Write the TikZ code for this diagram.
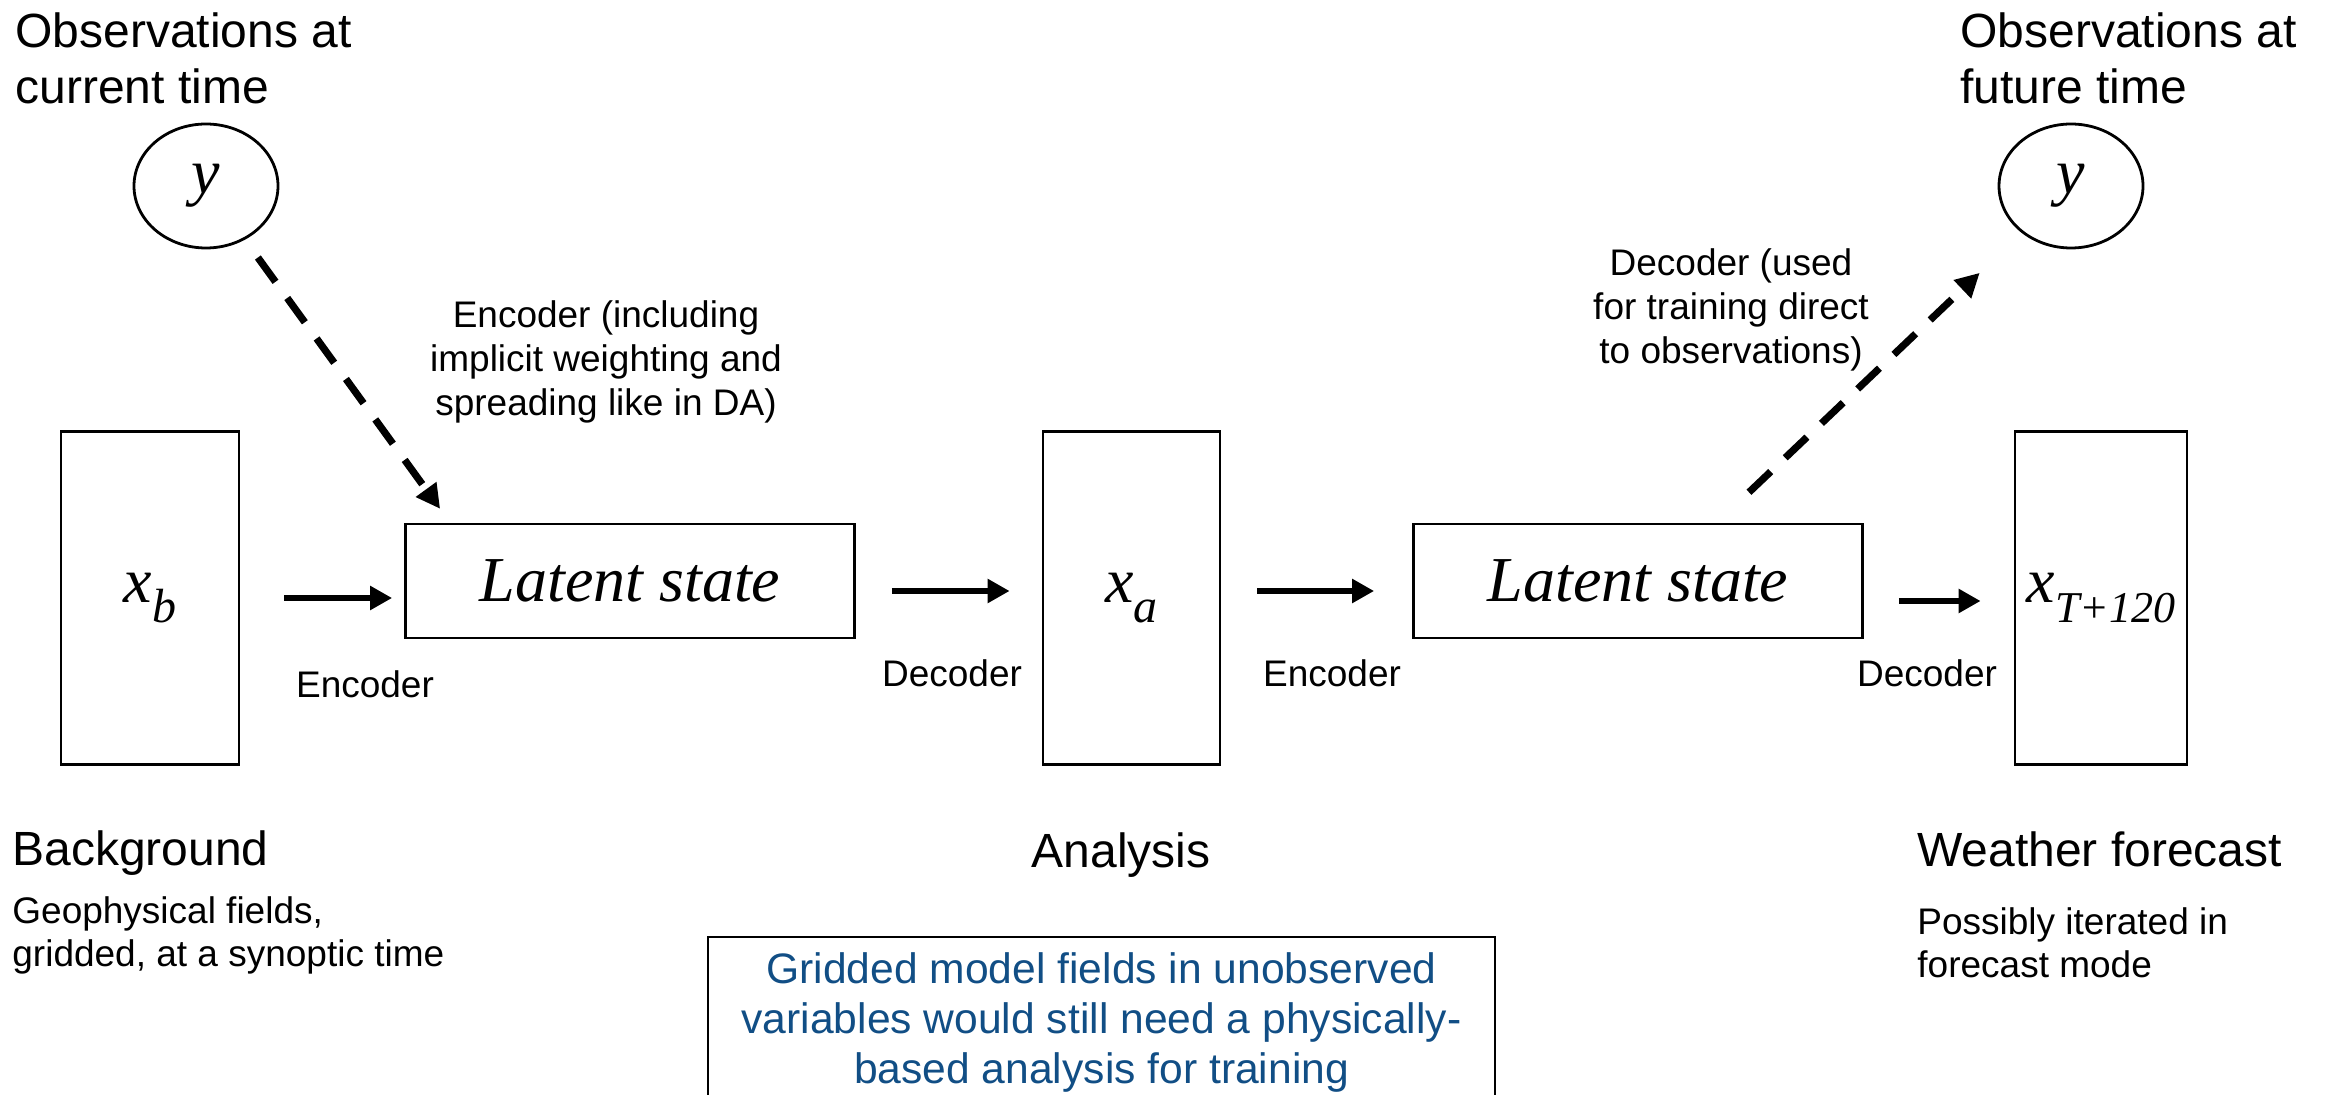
\documentclass[tikz,border=0pt]{standalone}
\usepackage{fontspec}
\setmainfont{Liberation Sans}
\newfontfamily\tms{Liberation Serif}
\usetikzlibrary{arrows.meta,shapes.geometric}
\definecolor{bluetxt}{RGB}{17,78,133}
\newcommand{\sublab}[3][24]{\raisebox{-8pt}{\tms\itshape #2\raisebox{-0.3em}{\fontsize{#1}{#1}\selectfont\itshape #3}}}
\begin{document}
\begin{tikzpicture}[x=0.5pt,y=-0.5pt,
  box/.style={draw,line width=1.4pt,inner sep=0pt,font=\fontsize{32}{36}\selectfont},
  obs/.style={draw,ellipse,line width=1.4pt,minimum width=72pt,minimum height=62pt,inner sep=0pt,font=\fontsize{32}{36}\selectfont\tms\itshape},
  arr/.style={line width=3.4pt,-{Triangle[length=11pt,width=11.5pt]}},
  dasharr/.style={line width=3.6pt,dash pattern=on 15pt off 10pt,-{Triangle[length=12pt,width=12pt]}},
  big/.style={font=\fontsize{24}{28}\selectfont,align=left,inner sep=0pt},
  med/.style={font=\fontsize{18.5}{22}\selectfont,align=center,inner sep=0pt},
  medl/.style={font=\fontsize{18.5}{21.5}\selectfont,align=left,inner sep=0pt},
]
\useasboundingbox (0,0) rectangle (2328,1095);
\clip (0,0) rectangle (2328,1095);

% boxes
\node[box,minimum width=89pt,minimum height=166.5pt] (xb) at (150,598) {\sublab{x}{b}};
\node[box,minimum width=224.5pt,minimum height=57pt] (l1) at (630,581) {\raisebox{-7pt}{\tms\itshape Latent state}};
\node[box,minimum width=88.5pt,minimum height=166.5pt] (xa) at (1131.5,598) {\sublab{x}{a}};
\node[box,minimum width=224.5pt,minimum height=57pt] (l2) at (1638,581) {\raisebox{-7pt}{\tms\itshape Latent state}};
\node[box,minimum width=86pt,minimum height=166.5pt] (xt) at (2101,598) {\sublab[22]{x}{T+120}};

% observation ellipses
\node[obs] (y1) at (206,186) {\raisebox{-7pt}{y}};
\node[obs] (y2) at (2071,186) {\raisebox{-7pt}{y}};

% solid arrows
\draw[arr,shorten <=22pt,shorten >=6pt] (xb.east) -- (xb.east -| l1.west);
\draw[arr,shorten <=18pt,shorten >=16pt] ([yshift=-5pt]l1.east) -- ([yshift=-5pt]l1.east -| xa.west);
\draw[arr,shorten <=18pt,shorten >=19pt] ([yshift=3.5pt]xa.east) -- ([yshift=3.5pt]xa.east -| l2.west);
\draw[arr,shorten <=17.5pt,shorten >=16.5pt] ([yshift=-10pt]l2.east) -- ([yshift=-10pt]l2.east -| xt.west);

% dashed arrows
\draw[dasharr,shorten <=11pt,shorten >=8.5pt] (y1) -- ([xshift=23pt]l1.north west);
\draw[dasharr,shorten <=22pt,shorten >=63pt] ([xshift=152.5pt]l2.north west) -- (y2.center);

% labels
\node[big,anchor=west] (t1) at (15,58) {Observations at\\current time};
\node[big,anchor=west] (t2) at (1960,58) {Observations at\\future time};
\node[med] (c1) at (606,362) {Encoder (including\\implicit weighting and\\spreading like in DA)};
\node[med] (c2) at (1731,310) {Decoder (used\\for training direct\\to observations)};
\node[med] (e1) at (365,684) {Encoder};
\node[med] (d1) at (952,673) {Decoder};
\node[med] (e2) at (1332,673) {Encoder};
\node[med] (d2) at (1927,673) {Decoder};

\node[big,anchor=west] (bg) at (12,853) {Background};
\node[medl,anchor=west] (bgd) at (12,935) {Geophysical fields,\\gridded, at a synoptic time};
\node[big] (an) at (1121,855) {Analysis};
\node[big,anchor=west] (wf) at (1917,849) {Weather forecast};
\node[medl,anchor=west] (wfd) at (1917,943) {Possibly iterated in\\forecast mode};

\node[draw,line width=1pt,minimum width=393.5pt,minimum height=85pt,inner sep=0pt,
      align=center,text=bluetxt,font=\fontsize{21.3}{25}\selectfont] (note) at (1101.5,1022)
  {Gridded model fields in unobserved\\variables would still need a physically-\\based analysis for training};
\end{tikzpicture}
\end{document}
